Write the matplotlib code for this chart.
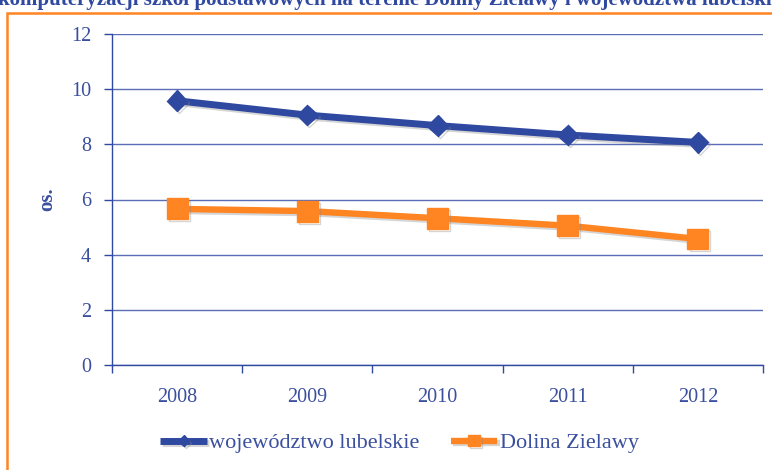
import matplotlib
matplotlib.use("Agg")
import matplotlib.pyplot as plt
import matplotlib.patheffects as pe
from matplotlib.patches import Rectangle

years = ["2008", "2009", "2010", "2011", "2012"]
lubelskie = [9.58, 9.06, 8.68, 8.34, 8.07]
zielawa = [5.66, 5.58, 5.32, 5.05, 4.57]
series_names = ["województwo lubelskie", "Dolina Zielawy"]
y_ticks = [0, 2, 4, 6, 8, 10, 12]
title_text = "komputeryzacji szkół podstawowych na terenie Doliny Zielawy i województwa lubelskiego"

BLUE = "#2F48A0"
TXT = "#3A4F9E"
GRID = "#5A6DB6"
ORANGE = "#FF8422"

plt.rcParams['font.family'] = ['Liberation Serif', 'DejaVu Serif']

fig = plt.figure(figsize=(7.72, 4.70), dpi=100)
ax = fig.add_axes([112/772, (470-365)/470, (763-112)/772, (365-34)/470])

# orange frame
fig.patches.append(Rectangle((7/772, -0.1), 1.2, (470-13)/470 + 0.1, transform=fig.transFigure,
                             fill=False, edgecolor=ORANGE, linewidth=1.8, zorder=0))

x = list(range(len(years)))
shadow = [pe.SimpleLineShadow(offset=(1.5, -1.5), shadow_color='#888888', alpha=0.35), pe.Normal()]
ax.plot(x, lubelskie, color=BLUE, linewidth=5, marker='D', markersize=10.5,
        solid_capstyle='butt', label=series_names[0], path_effects=shadow, zorder=3)
ax.plot(x, zielawa, color=ORANGE, linewidth=4.6, marker='s', markersize=15,
        solid_capstyle='butt', label=series_names[1], path_effects=shadow, zorder=3)

ax.set_xlim(-0.5, len(years) - 0.5)
ax.set_ylim(0, 12)
ax.set_yticks(y_ticks)
ax.set_yticklabels([str(v) for v in y_ticks])
ax.set_xticks(x)
ax.set_xticklabels(years)
ax.set_xticks([i - 0.5 for i in range(len(years) + 1)], minor=True)

ax.tick_params(axis='x', which='major', length=0, pad=16.5, labelsize=14.5, labelcolor=TXT)
ax.tick_params(axis='x', which='minor', length=5.5, width=1.0, color=BLUE, direction='out')
ax.tick_params(axis='y', length=5.5, width=1.0, color=BLUE, labelsize=14.5, labelcolor=TXT, pad=9.5)

ax.grid(axis='y', color=GRID, linewidth=1.0)
ax.set_axisbelow(True)
for s in ['top', 'right']:
    ax.spines[s].set_visible(False)
for s in ['left', 'bottom']:
    ax.spines[s].set_color(BLUE)
    ax.spines[s].set_linewidth(1.0)

ax.set_ylabel("os.", fontsize=15, fontweight='bold', color=TXT)
ax.yaxis.set_label_coords((57 - 112) / 651, 0.5)

leg = fig.legend(loc='center', bbox_to_anchor=(0.5175, 1 - 443/470), ncol=2, frameon=False,
                 fontsize=16, handlelength=2.1, handletextpad=0.1, columnspacing=1.4,
                 labelcolor=TXT, markerscale=0.55)

fig.text(-0.002, 1 - 5/470, title_text, fontsize=15, fontweight='bold', color=BLUE,
         va='baseline', ha='left')

fig.savefig("out.png", dpi=100)
